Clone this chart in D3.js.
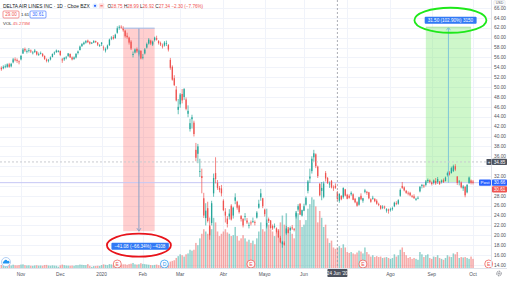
<!DOCTYPE html>
<html><head><meta charset="utf-8">
<script src="https://cdn.jsdelivr.net/npm/d3@7"></script>
<style>html,body{margin:0;padding:0;background:#fff;overflow:hidden}svg{display:block}</style>
</head><body><svg id="c" width="507" height="281"></svg>
<script>
// ---------- DATA ----------
const dates = [
"2019-10-18","2019-10-21","2019-10-22","2019-10-23","2019-10-24","2019-10-25","2019-10-28","2019-10-29","2019-10-30","2019-10-31",
"2019-11-01","2019-11-04","2019-11-05","2019-11-06","2019-11-07","2019-11-08","2019-11-11","2019-11-12","2019-11-13","2019-11-14","2019-11-15","2019-11-18","2019-11-19","2019-11-20","2019-11-21","2019-11-22","2019-11-25","2019-11-26","2019-11-27","2019-11-29",
"2019-12-02","2019-12-03","2019-12-04","2019-12-05","2019-12-06","2019-12-09","2019-12-10","2019-12-11","2019-12-12","2019-12-13","2019-12-16","2019-12-17","2019-12-18","2019-12-19","2019-12-20","2019-12-23","2019-12-24","2019-12-26","2019-12-27","2019-12-30","2019-12-31",
"2020-01-02","2020-01-03","2020-01-06","2020-01-07","2020-01-08","2020-01-09","2020-01-10","2020-01-13","2020-01-14","2020-01-15","2020-01-16","2020-01-17","2020-01-21","2020-01-22","2020-01-23","2020-01-24","2020-01-27","2020-01-28","2020-01-29","2020-01-30","2020-01-31",
"2020-02-03","2020-02-04","2020-02-05","2020-02-06","2020-02-07","2020-02-10","2020-02-11","2020-02-12","2020-02-13","2020-02-14","2020-02-18","2020-02-19","2020-02-20","2020-02-21","2020-02-24","2020-02-25","2020-02-26","2020-02-27","2020-02-28",
"2020-03-02","2020-03-03","2020-03-04","2020-03-05","2020-03-06","2020-03-09","2020-03-10","2020-03-11","2020-03-12","2020-03-13","2020-03-16","2020-03-17","2020-03-18","2020-03-19","2020-03-20","2020-03-23","2020-03-24","2020-03-25","2020-03-26","2020-03-27","2020-03-30","2020-03-31",
"2020-04-01","2020-04-02","2020-04-03","2020-04-06","2020-04-07","2020-04-08","2020-04-09","2020-04-13","2020-04-14","2020-04-15","2020-04-16","2020-04-17","2020-04-20","2020-04-21","2020-04-22","2020-04-23","2020-04-24","2020-04-27","2020-04-28","2020-04-29","2020-04-30",
"2020-05-01","2020-05-04","2020-05-05","2020-05-06","2020-05-07","2020-05-08","2020-05-11","2020-05-12","2020-05-13","2020-05-14","2020-05-15","2020-05-18","2020-05-19","2020-05-20","2020-05-21","2020-05-22","2020-05-26","2020-05-27","2020-05-28","2020-05-29",
"2020-06-01","2020-06-02","2020-06-03","2020-06-04","2020-06-05","2020-06-08","2020-06-09","2020-06-10","2020-06-11","2020-06-12","2020-06-15","2020-06-16","2020-06-17","2020-06-18","2020-06-19","2020-06-22","2020-06-23","2020-06-24","2020-06-25","2020-06-26","2020-06-29","2020-06-30",
"2020-07-01","2020-07-02","2020-07-06","2020-07-07","2020-07-08","2020-07-09","2020-07-10","2020-07-13","2020-07-14","2020-07-15","2020-07-16","2020-07-17","2020-07-20","2020-07-21","2020-07-22","2020-07-23","2020-07-24","2020-07-27","2020-07-28","2020-07-29","2020-07-30","2020-07-31",
"2020-08-03","2020-08-04","2020-08-05","2020-08-06","2020-08-07","2020-08-10","2020-08-11","2020-08-12","2020-08-13","2020-08-14","2020-08-17","2020-08-18","2020-08-19","2020-08-20","2020-08-21","2020-08-24","2020-08-25","2020-08-26","2020-08-27","2020-08-28","2020-08-31",
"2020-09-01","2020-09-02","2020-09-03","2020-09-04","2020-09-08","2020-09-09","2020-09-10","2020-09-11","2020-09-14","2020-09-15","2020-09-16","2020-09-17","2020-09-18","2020-09-21","2020-09-22","2020-09-23","2020-09-24","2020-09-25","2020-09-28","2020-09-29","2020-09-30",
"2020-10-01"];

const open = [
53.9,53.8,54.2,54.1,54.6,54.2,55.0,55.6,55.5,55.2,
55.6,56.8,57.7,57.3,57.5,57.4,57.0,57.1,57.2,56.6,56.8,56.7,56.3,55.6,55.4,55.6,56.1,56.8,57.1,57.3,
57.3,55.6,55.6,56.0,56.3,56.7,56.0,55.7,56.0,56.9,57.5,58.3,58.7,59.0,59.4,59.1,58.8,59.0,59.3,59.0,58.4,
58.7,58.0,57.4,57.8,58.5,59.8,60.1,59.9,61.0,62.0,62.2,62.0,61.4,60.4,60.0,59.2,56.5,57.0,57.7,56.6,57.3,
56.0,56.8,58.0,58.8,59.4,58.6,59.5,59.9,59.3,58.9,58.4,58.4,58.9,58.5,55.5,54.1,51.8,49.5,45.4,
46.5,48.6,48.0,47.5,44.6,41.5,43.5,42.8,37.3,36.5,33.0,32.0,27.5,23.5,25.5,22.0,22.5,28.5,32.6,30.6,29.6,29.5,
27.0,24.8,23.4,23.8,26.0,24.0,27.0,26.8,26.0,23.9,23.3,23.8,23.0,22.1,22.6,22.8,22.7,23.6,25.6,27.7,27.5,
25.2,21.8,23.3,23.0,21.9,21.8,21.4,20.9,19.5,18.2,18.5,20.4,21.2,21.0,21.6,21.3,23.8,25.2,26.4,24.0,
25.0,26.2,29.0,31.5,33.0,35.8,36.4,33.9,30.4,29.0,27.8,32.6,31.6,30.3,31.0,29.7,30.0,28.75,27.0,28.0,27.7,29.3,
28.2,28.0,28.3,28.3,27.4,26.7,26.2,28.0,27.0,28.8,28.8,28.7,27.3,27.4,27.4,27.0,26.3,26.0,25.6,25.8,25.0,25.2,
25.1,25.3,25.9,26.5,26.4,28.0,30.0,29.7,29.0,28.6,28.6,28.0,27.9,27.2,27.5,28.9,30.0,30.1,30.2,31.0,31.1,
30.7,30.6,31.0,30.8,30.9,30.8,31.2,31.0,32.2,32.7,32.6,33.0,34.0,31.9,30.8,30.7,29.5,29.8,28.7,30.6,31.1,
30.9];
const high = [
54.2,54.4,54.6,54.8,54.9,54.9,55.9,56.0,55.8,55.4,
56.5,57.9,58.0,57.6,57.9,57.6,57.3,57.7,57.3,57.0,57.2,56.9,56.4,55.8,55.7,56.2,56.8,57.2,57.6,57.5,
57.4,55.9,56.1,56.3,56.9,56.8,56.2,56.2,56.9,57.4,58.4,58.9,59.2,59.5,59.6,59.3,59.1,59.5,59.4,59.1,58.7,
59.1,58.4,58.0,58.6,59.8,60.3,60.5,60.8,62.3,62.5,62.5,62.3,61.6,61.0,60.2,59.5,57.2,57.8,58.0,57.6,57.5,
56.7,57.9,59.0,59.9,59.6,59.4,60.2,60.4,59.5,59.2,58.8,59.3,59.4,58.7,55.9,54.4,52.4,50.2,47.6,
48.8,49.6,49.8,47.9,46.3,43.6,44.4,43.2,38.7,38.5,35.5,33.5,28.6,26.5,26.8,23.6,27.0,32.5,35.8,31.2,30.0,30.2,
27.3,25.5,23.9,25.3,26.3,25.8,28.5,27.0,26.2,24.1,23.5,24.5,23.5,22.6,23.0,23.6,23.0,24.9,27.2,29.4,27.6,
25.4,23.2,23.6,23.1,22.2,22.4,21.6,21.2,19.9,18.9,18.8,21.9,21.6,21.8,22.1,21.5,24.8,26.3,26.5,25.2,
26.4,27.9,31.2,33.5,36.0,37.3,36.6,34.1,30.6,30.8,30.9,33.0,31.8,30.9,31.2,30.1,30.5,28.99,28.5,28.1,29.7,29.4,
28.4,28.3,28.9,28.5,27.6,26.9,27.8,28.5,27.6,29.4,29.0,28.8,27.5,28.0,27.5,27.3,26.6,26.1,26.1,26.0,25.5,25.4,
25.6,25.8,26.8,26.9,27.3,29.5,30.8,29.9,29.2,28.9,28.8,28.2,28.3,27.6,27.9,30.0,30.4,30.3,31.2,31.5,31.3,
30.9,31.3,31.6,31.8,31.0,31.3,31.5,31.9,32.9,33.0,33.9,34.3,34.4,32.0,31.2,30.9,30.2,30.0,30.4,31.9,31.3,
31.2];
const low = [
53.3,53.6,53.8,53.9,53.9,54.0,54.8,55.2,54.9,54.6,
55.4,56.7,57.1,56.8,57.0,56.9,56.6,56.9,56.4,56.3,56.6,56.1,55.5,55.0,55.0,55.4,56.0,56.5,56.9,57.0,
56.3,54.9,55.3,55.6,56.1,55.9,55.4,55.5,55.8,56.6,57.4,58.1,58.5,58.8,58.9,58.6,58.7,58.9,58.9,58.3,58.1,
58.3,57.4,57.0,57.6,58.3,59.5,59.6,59.8,60.8,61.6,61.8,61.2,60.0,59.8,58.6,57.5,56.0,56.8,56.9,56.2,55.6,
55.6,56.6,57.8,58.6,58.5,58.3,59.2,59.4,58.6,58.3,57.8,58.2,58.3,57.2,53.5,51.3,50.2,47.1,44.5,
45.8,46.7,47.4,45.3,43.9,41.0,41.6,40.0,35.0,34.6,31.8,28.5,23.5,22.0,22.6,19.1,22.0,27.8,30.5,29.2,28.7,27.9,
24.9,22.6,21.6,23.2,23.0,23.4,26.3,25.2,24.4,22.8,21.6,23.0,22.3,21.4,22.0,22.5,22.0,23.4,25.4,27.0,25.5,
23.8,21.4,22.5,21.3,21.1,21.4,20.4,19.5,18.4,17.5,17.9,20.1,20.4,20.8,21.1,20.8,23.4,24.8,24.1,23.8,
24.9,26.0,28.5,30.6,32.5,34.9,33.6,31.6,27.9,27.1,27.5,30.9,30.4,29.6,29.5,29.0,29.4,26.92,26.6,27.1,27.4,27.9,
27.3,27.4,28.0,27.1,26.5,25.8,26.0,27.1,26.6,28.5,28.2,27.3,26.6,27.2,26.7,26.2,25.9,25.2,25.3,25.3,24.6,24.4,
24.8,25.0,25.7,26.1,26.2,27.8,29.4,28.9,28.4,28.1,27.9,27.6,27.4,27.0,27.3,28.7,29.5,29.6,29.9,30.6,30.5,
30.1,30.3,30.2,30.4,30.2,30.5,30.6,30.9,31.9,32.1,32.5,32.8,33.0,30.2,30.1,29.5,29.0,27.7,28.5,30.4,30.3,
30.3];
const close = [
53.6,54.1,54.2,54.6,54.1,54.7,55.6,55.5,55.3,55.1,
56.3,57.6,57.4,57.3,57.5,57.2,57.0,57.4,56.6,56.7,56.9,56.3,55.7,55.3,55.5,56.0,56.7,57.0,57.4,57.3,
56.5,55.4,55.9,56.0,56.8,56.0,55.6,56.0,56.7,57.2,58.2,58.7,59.0,59.3,59.1,58.8,59.0,59.3,59.1,58.6,58.5,
59.0,57.9,57.7,58.4,59.6,60.0,59.8,60.6,61.9,62.2,62.1,61.5,60.3,60.1,59.0,57.8,56.7,57.6,57.2,57.4,55.8,
56.1,57.6,58.7,59.6,58.8,59.2,60.0,59.6,58.9,58.6,58.2,59.0,58.9,57.6,53.9,51.5,50.4,47.3,46.0,
48.5,47.3,49.6,45.6,45.2,42.7,43.9,40.5,35.7,38.0,33.0,31.6,24.0,25.0,22.9,20.0,26.5,31.6,31.4,29.6,29.2,28.5,
25.1,24.0,22.3,24.4,23.2,25.6,27.7,25.6,24.7,23.3,22.0,23.9,22.6,22.1,22.5,22.9,22.6,24.6,26.4,28.5,25.9,
24.3,22.5,22.9,21.5,21.4,21.9,20.7,19.6,18.6,18.7,18.1,21.4,20.5,21.5,21.4,21.2,24.5,25.9,24.2,25.1,
25.9,27.6,30.9,31.9,35.5,36.6,34.0,32.0,28.1,29.6,30.5,31.5,30.6,30.5,29.7,29.6,29.64,27.34,28.4,27.3,29.6,28.05,
27.4,27.6,28.6,27.2,26.7,26.0,27.7,27.3,27.5,29.1,28.6,27.5,26.8,27.6,26.9,26.4,26.2,25.4,25.8,25.7,25.3,25.0,
25.3,25.5,26.6,26.4,27.1,29.2,29.6,29.1,28.6,28.5,28.1,27.8,27.5,27.4,27.6,29.8,30.2,29.9,30.9,31.2,30.8,
30.4,31.1,30.5,31.4,30.4,31.1,30.8,31.7,32.6,32.3,33.6,34.0,33.3,30.6,30.9,29.7,29.9,28.1,30.2,31.7,30.6,
30.61];
// volume, millions of shares
const volume = [
6.5,5.8,6.2,7.0,8.5,5.5,7.2,6.0,5.8,6.4,
7.5,8.0,6.2,5.5,5.8,5.0,4.8,5.6,6.0,5.2,5.5,5.0,6.5,6.8,5.4,5.0,5.8,5.2,4.9,2.8,
6.0,7.5,6.2,5.5,5.2,5.0,5.4,4.8,6.2,6.0,7.5,7.0,6.5,6.2,8.5,4.8,2.5,4.2,4.5,5.0,4.6,
6.5,8.0,7.0,6.2,8.5,7.8,6.5,7.2,14.0,9.0,7.5,8.0,8.2,7.0,8.5,9.5,11.0,8.0,7.5,8.2,10.5,
9.0,8.5,7.8,7.2,6.5,6.0,6.8,7.5,6.2,5.8,6.0,5.5,5.2,6.5,14.0,15.5,17.0,22.0,26.0,
30,28,25,30,32,40,38,40,55,50,65,75,85,80,75,90,85,110,100,80,70,75,
80,85,78,75,70,72,90,70,60,65,72,65,58,62,55,60,52,65,80,100,85,
80,130,95,85,80,70,78,85,100,115,95,120,90,80,75,65,125,120,105,90,
95,105,130,140,155,150,135,100,125,110,90,95,65,55,60,45,42,45,48,44,52,45,
35,33,35,32,30,34,38,36,32,45,35,30,25,28,24,26,24,25,22,23,24,22,
20,22,30,25,28,40,45,35,28,22,24,20,22,20,18,35,30,24,28,30,22,
20,25,24,28,22,20,18,22,28,25,24,32,30,35,22,24,23,24,22,20,25,
20];

const monthTickDates = ["2019-11-01","2019-12-02","2020-01-02","2020-02-03","2020-03-02","2020-04-01","2020-05-01","2020-06-01","2020-07-01","2020-08-03","2020-09-01","2020-10-01"];
const monthTickLabels = ["Nov","Dec","2020","Feb","Mar","Abr","Mayo","Jun","Jul","Ago","Sep","Oct"];
const priceTicks = [14,16,18,20,22,24,26,28,30,32,34,36,38,40,42,44,46,48,50,52,54,56,58,60,62,64,66];

// measuring tools (date range + price range)
const rangeDown = {from:"2020-01-17", to:"2020-02-11", top:61.92, bottom:20.84, label:"\u221241.08 (\u221266.34%) \u22124108"};
const rangeUp   = {from:"2020-08-27", to:"2020-09-30", top:62.11, bottom:30.61, label:"31.50 (102.90%) 3150"};
const events = [{date:"2020-01-14",t:"E"},{date:"2020-02-19",t:"D"},{date:"2020-04-22",t:"E"},{date:"2020-07-14",t:"E"},{date:"2020-10-13",t:"E"}];
const crossDate = "2020-06-24", crossPrice = 34.85, postPrice = 30.66, lastPrice = 30.61;
const header = {title:"DELTA AIR LINES INC \u00b7 1D \u00b7 Cboe BZX", o:"28.75", h:"28.99", l:"26.92", c:"27.34", chg:"\u22122.30 (\u22127.76%)", sell:"29.00", spread:"1.61", buy:"30.61", vol:"45.273M"};

// ---------- DRAW ----------
const svg = d3.select("#c");
const FONT = "'Liberation Sans', Arial, sans-serif";
const plotR = 491, plotB = 268;
const idx = d => { const i = dates.indexOf(d); if (i >= 0) return i;
  let dt = new Date(dates[dates.length-1]+"T00:00:00"), target = new Date(d+"T00:00:00"), k = dates.length-1;
  while (dt < target) { dt = d3.timeDay.offset(dt,1); const wd = dt.getDay(); if (wd>0 && wd<6) k++; }
  return k; };
const x = d3.scaleLinear().domain([idx("2019-11-01"), idx("2020-10-01")]).range([21, 473]);
const y = d3.scaleLinear().domain([14, 66]).range([265, 8]);
const yv = d3.scaleLinear().domain([0, 160]).range([plotB, plotB - 73]);
const UP = "#26a69a", DN = "#ef5350";

svg.append("clipPath").attr("id","plotclip").append("rect").attr("x",0).attr("y",0).attr("width",plotR).attr("height",plotB);
const g = svg.append("g").attr("clip-path","url(#plotclip)");

// grid
g.selectAll("line.hg").data(priceTicks).join("line").attr("class","hg")
  .attr("x1",0).attr("x2",plotR).attr("y1",d=>Math.round(y(d))+0.5).attr("y2",d=>Math.round(y(d))+0.5)
  .attr("stroke","#f0f3fa").attr("stroke-width",1);
g.selectAll("line.vg").data(monthTickDates).join("line").attr("class","vg")
  .attr("y1",0).attr("y2",plotB).attr("x1",d=>Math.round(x(idx(d)))+0.5).attr("x2",d=>Math.round(x(idx(d)))+0.5)
  .attr("stroke","#f0f3fa").attr("stroke-width",1);

// volume
const bw = 1.5;
g.selectAll("rect.v").data(d3.range(dates.length)).join("rect").attr("class","v")
  .attr("x", i => x(i) - bw/2).attr("width", bw)
  .attr("y", i => yv(volume[i])).attr("height", i => plotB - yv(volume[i]))
  .attr("fill", i => close[i] >= open[i] ? UP : DN).attr("opacity", 0.5);

// range tool fills
function drawRangeFill(r, col) {
  const x0 = x(idx(r.from)), x1 = x(idx(r.to));
  g.append("rect").attr("x", x0).attr("width", x1 - x0).attr("y", y(r.top)).attr("height", y(r.bottom) - y(r.top)).attr("fill", col);
}
drawRangeFill(rangeDown, "rgba(255,82,82,0.28)");
drawRangeFill(rangeUp, "rgba(102,230,90,0.32)");

// post price line
g.append("line").attr("x1",0).attr("x2",plotR).attr("y1",y(postPrice)).attr("y2",y(postPrice))
  .attr("stroke","#c5c7f5").attr("stroke-width",1);

// candles
const cw = 1.3;
const cg = g.append("g");
cg.selectAll("line.w").data(d3.range(dates.length)).join("line").attr("class","w")
  .attr("x1", i => x(i)).attr("x2", i => x(i)).attr("y1", i => y(high[i])).attr("y2", i => y(low[i]))
  .attr("stroke", i => close[i] >= open[i] ? UP : DN).attr("stroke-width", 0.7);
cg.selectAll("rect.b").data(d3.range(dates.length)).join("rect").attr("class","b")
  .attr("x", i => x(i) - cw/2).attr("width", cw)
  .attr("y", i => y(Math.max(open[i], close[i])))
  .attr("height", i => Math.max(0.8, Math.abs(y(open[i]) - y(close[i]))))
  .attr("fill", i => close[i] >= open[i] ? UP : DN);

// range tool lines
function drawRangeLines(r, up) {
  const x0 = x(idx(r.from)), x1 = x(idx(r.to)), xm = (x0 + x1) / 2;
  const lc = up ? "#7fc6d8" : "#8aa2c8";
  g.append("line").attr("x1", xm).attr("x2", xm).attr("y1", y(r.top)).attr("y2", y(r.bottom)).attr("stroke", lc).attr("stroke-width", 1);
  const ya = up ? y(r.top) : y(r.bottom), s = up ? 1 : -1;
  g.append("path").attr("d", `M${xm-2},${ya+3*s} L${xm},${ya} L${xm+2},${ya+3*s}`).attr("fill","none").attr("stroke",lc).attr("stroke-width",1);
  g.append("line").attr("x1", x0).attr("x2", x1).attr("y1", y(r.top)).attr("y2", y(r.top)).attr("stroke", up ? "#a8e0a0" : "#9fbbe8").attr("stroke-width", 1);
}
drawRangeLines(rangeDown, false);
drawRangeLines(rangeUp, true);

// crosshair
g.append("line").attr("x1", x(idx(crossDate))).attr("x2", x(idx(crossDate))).attr("y1",0).attr("y2",plotB)
  .attr("stroke","#9598a1").attr("stroke-width",0.8).attr("stroke-dasharray","2,2");
g.append("line").attr("x1",0).attr("x2",plotR).attr("y1",y(crossPrice)).attr("y2",y(crossPrice))
  .attr("stroke","#c8cacf").attr("stroke-width",1).attr("stroke-dasharray","2,2");

// range labels
function rangeLabel(r, cx, cy) {
  const t = svg.append("text").attr("x", cx).attr("y", cy + 1.6).attr("text-anchor","middle")
    .attr("font-family", FONT).attr("font-size", 4.6).attr("fill","#fff").text(r.label);
  const bb = t.node().getBBox();
  svg.insert("rect", () => t.node()).attr("x", bb.x - 3).attr("y", cy - 3.5).attr("width", bb.width + 6).attr("height", 7)
    .attr("rx", 1).attr("fill", "#3179f5");
}
const xdm = (x(idx(rangeDown.from)) + x(idx(rangeDown.to))) / 2;
const xum = (x(idx(rangeUp.from)) + x(idx(rangeUp.to))) / 2;
rangeLabel(rangeDown, xdm + 1, y(rangeDown.bottom) + 15);
rangeLabel(rangeUp, xum + 2, y(rangeUp.top) - 7);

// hand-drawn ellipses
svg.append("ellipse").attr("cx", xdm).attr("cy", y(rangeDown.bottom) + 14).attr("rx", 32).attr("ry", 11.5)
  .attr("fill","none").attr("stroke","#e8141b").attr("stroke-width",1.8);
svg.append("ellipse").attr("cx", xum + 2).attr("cy", y(rangeUp.top) - 7).attr("rx", 36).attr("ry", 12.5)
  .attr("fill","none").attr("stroke","#1ee81a").attr("stroke-width",1.8);

// events
const evy = 264;
const eg = svg.append("g");
events.forEach(e => {
  const cx = x(idx(e.date)), col = e.t === "D" ? "#2196f3" : DN;
  eg.append("circle").attr("cx", cx).attr("cy", evy).attr("r", 4).attr("fill","#fff").attr("stroke", col).attr("stroke-width", 0.8).attr("opacity",0.9);
  eg.append("text").attr("x", cx).attr("y", evy + 1.8).attr("text-anchor","middle").attr("font-family",FONT).attr("font-size",5).attr("fill",col).text(e.t);
});
eg.append("circle").attr("cx", 6).attr("cy", 262).attr("r", 4.5).attr("fill","#fff").attr("stroke","#9ec3f0").attr("stroke-width",0.8);
eg.append("path").attr("d","M3.2,263.5 a1.3,1.3 0 0 1 0.8,-2.2 a1.8,1.8 0 0 1 3.4,-0.4 a1.3,1.3 0 0 1 1.4,2.6 z").attr("fill","#2196f3");

// price axis
const tagYs = [y(crossPrice), y(postPrice), y(lastPrice) + 6.4];
svg.append("line").attr("x1", plotR + 0.5).attr("x2", plotR + 0.5).attr("y1", 0).attr("y2", plotB).attr("stroke","#e0e3eb");
svg.selectAll("text.py").data(priceTicks.filter(d => tagYs.every(t => Math.abs(y(d) - t) > 4.6))).join("text").attr("class","py")
  .attr("x", 494).attr("y", d => y(d) + 1.7).attr("font-family",FONT).attr("font-size",4.8).attr("fill","#50535e")
  .text(d => d.toFixed(2));
svg.append("rect").attr("x",494).attr("y",0.5).attr("width",11).attr("height",5).attr("rx",1).attr("fill","#fff").attr("stroke","#d1d4dc").attr("stroke-width",0.5);
svg.append("text").attr("x",499.5).attr("y",4.3).attr("text-anchor","middle").attr("font-family",FONT).attr("font-size",3.6).attr("fill","#50535e").text("USD");

function tag(yc, txt, bg, x0, w) {
  svg.append("rect").attr("x", x0).attr("y", yc - 3.1).attr("width", w).attr("height", 6.2).attr("fill", bg).attr("rx",0.8);
  svg.append("text").attr("x", x0 + w/2).attr("y", yc + 1.6).attr("text-anchor","middle").attr("font-family",FONT).attr("font-size",4.6).attr("fill","#fff").text(txt);
}
tag(tagYs[0], crossPrice.toFixed(2), "#4c525e", 492, 15);
svg.append("rect").attr("x",486.5).attr("y",tagYs[0]-3).attr("width",5).attr("height",6).attr("fill","#4c525e").attr("rx",0.6);
svg.append("text").attr("x",489).attr("y",tagYs[0]+1.7).attr("text-anchor","middle").attr("font-family",FONT).attr("font-size",4.5).attr("fill","#fff").text("+");
tag(tagYs[1], postPrice.toFixed(2), "#2962ff", 492, 15);
svg.append("rect").attr("x",479).attr("y",tagYs[1]-3.1).attr("width",12).attr("height",6.2).attr("fill","#2962ff").attr("rx",0.8);
svg.append("text").attr("x",485).attr("y",tagYs[1]+1.6).attr("text-anchor","middle").attr("font-family",FONT).attr("font-size",4.4).attr("fill","#fff").text("Post");
tag(tagYs[2], lastPrice.toFixed(2), DN, 492, 15);

// time axis
const cxp = x(idx(crossDate));
svg.append("line").attr("x1",0).attr("x2",507).attr("y1",plotB+0.5).attr("y2",plotB+0.5).attr("stroke","#e0e3eb");
svg.selectAll("text.tx").data(monthTickDates.filter(d => Math.abs(x(idx(d)) - cxp) > 14)).join("text").attr("class","tx")
  .attr("x", d => x(idx(d))).attr("y", 275.5).attr("text-anchor","middle").attr("font-family",FONT).attr("font-size",4.8).attr("fill","#50535e")
  .text(d => monthTickLabels[monthTickDates.indexOf(d)]);
svg.append("rect").attr("x", cxp - 10).attr("y", 269).attr("width", 20).attr("height", 8).attr("fill","#4c525e").attr("rx",0.8);
const dparts = crossDate.split("-");
svg.append("text").attr("x", cxp).attr("y", 274.8).attr("text-anchor","middle").attr("font-family",FONT).attr("font-size",4.6).attr("fill","#fff")
  .text(`${+dparts[2]} ${monthTickLabels[7]} '${dparts[0].slice(2)}`);
svg.append("circle").attr("cx",499).attr("cy",273.5).attr("r",2.3).attr("fill","none").attr("stroke","#50535e").attr("stroke-width",0.8).attr("stroke-dasharray","1,0.6");
svg.append("circle").attr("cx",499).attr("cy",273.5).attr("r",0.8).attr("fill","none").attr("stroke","#50535e").attr("stroke-width",0.5);

// header
const hg = svg.append("g").attr("font-family",FONT).attr("font-size",4.9);
const titleT = hg.append("text").attr("x",3).attr("y",7.5).attr("fill","#131722").text(header.title);
const tEnd = Math.max(84, titleT.node().getBBox().x + titleT.node().getBBox().width);
hg.append("circle").attr("cx",tEnd + 4.5).attr("cy",5.8).attr("r",2.6).attr("fill","#e3effd");
hg.append("circle").attr("cx",tEnd + 4.5).attr("cy",5.8).attr("r",1.1).attr("fill","#2962ff");
hg.append("rect").attr("x",tEnd + 8.3).attr("y",3.2).attr("width",5.4).attr("height",5.2).attr("rx",1).attr("fill","#fde0e0");
hg.append("rect").attr("x",tEnd + 9.8).attr("y",5.3).attr("width",2.4).attr("height",1).attr("fill",DN);
const ohlc = hg.append("text").attr("x",Math.max(106, tEnd + 17)).attr("y",7.5).attr("fill",DN).attr("font-size",4.6);
[["O",header.o],["H",header.h],["L",header.l],["C",header.c]].forEach(([k,v]) => {
  ohlc.append("tspan").attr("fill","#131722").text(k);
  ohlc.append("tspan").text(v + " ");
});
ohlc.append("tspan").text(header.chg);
hg.append("rect").attr("x",3).attr("y",11).attr("width",16).attr("height",7).attr("rx",1).attr("fill","#fff").attr("stroke",DN).attr("stroke-width",0.6);
hg.append("text").attr("x",11).attr("y",16.3).attr("text-anchor","middle").attr("fill",DN).attr("font-size",4.6).text(header.sell);
hg.append("text").attr("x",25).attr("y",16.3).attr("text-anchor","middle").attr("fill","#131722").attr("font-size",4.2).text(header.spread);
hg.append("rect").attr("x",30).attr("y",11).attr("width",16).attr("height",7).attr("rx",1).attr("fill","#fff").attr("stroke","#2962ff").attr("stroke-width",0.6);
hg.append("text").attr("x",38).attr("y",16.3).attr("text-anchor","middle").attr("fill","#2962ff").attr("font-size",4.6).text(header.buy);
const vt = hg.append("text").attr("x",3).attr("y",25).attr("font-size",4.4);
vt.append("tspan").attr("fill","#131722").text("VOL ");
vt.append("tspan").attr("fill",DN).text(header.vol);
</script></body></html>
